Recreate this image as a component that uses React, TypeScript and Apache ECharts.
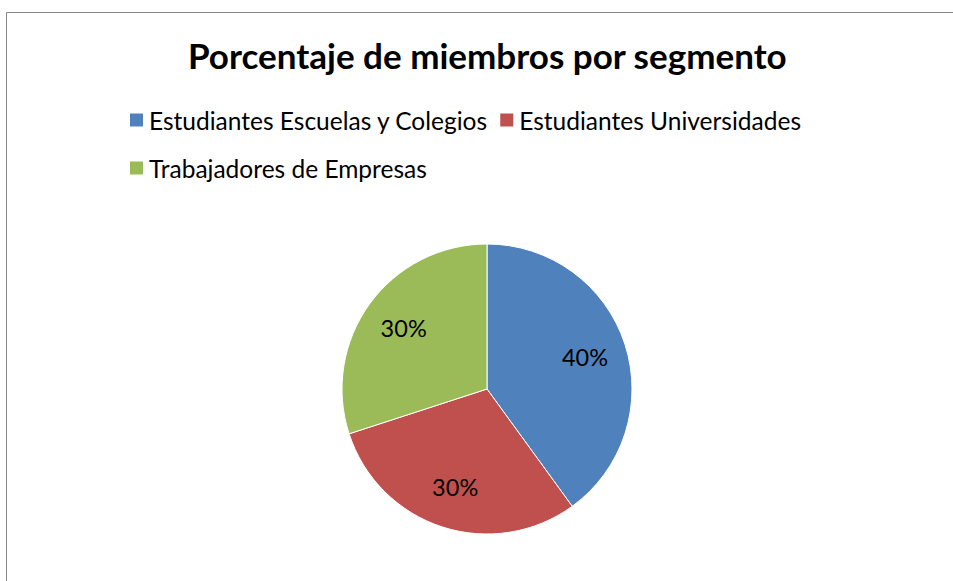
import React, { useEffect, useRef } from 'react';
import * as echarts from 'echarts';

const titleText = 'Porcentaje de miembros por segmento';
const categories = ['Estudiantes Escuelas y Colegios', 'Estudiantes Universidades', 'Trabajadores de Empresas'];
const values = [40, 30, 30];
const colors = ['#4F81BD', '#C0504D', '#9BBB59'];

const FONT = 'Lato';

export default function App() {
  const ref = useRef<HTMLDivElement>(null);
  useEffect(() => {
    document.body.style.margin = '0';
    const chart = echarts.init(ref.current!, null, { renderer: 'svg' });
    const data = categories.map((name, i) => ({ name, value: values[i], itemStyle: { color: colors[i] } }));
    chart.setOption({
      animation: false,
      backgroundColor: '#ffffff',
      title: {
        text: titleText,
        left: 183,
        top: 32,
        textStyle: { fontFamily: FONT, fontWeight: 'bold', fontSize: 35, color: '#000' },
      },
      legend: {
        left: 128,
        top: 101,
        width: 740,
        padding: 0,
        icon: 'rect',
        itemWidth: 15,
        itemHeight: 15,
        itemGap: 10,
        data: categories.map((name, i) => ({ name, itemStyle: { color: colors[i] } })),
        textStyle: { fontFamily: FONT, fontSize: 24.5, color: '#000', lineHeight: 38 },
      },
      graphic: [
        {
          type: 'rect',
          shape: { x: 6.5, y: 12.5, width: 1000, height: 1000 },
          style: { fill: 'none', stroke: '#868686', lineWidth: 1 },
          silent: true,
          z: -1,
        },
      ],
      series: [
        {
          type: 'pie',
          center: [487, 389],
          radius: [0, 145],
          startAngle: 90,
          clockwise: true,
          label: { show: false },
          labelLine: { show: false },
          itemStyle: { borderColor: '#ffffff', borderWidth: 1 },
          data,
        },
        {
          type: 'pie',
          center: [487, 389],
          radius: [0, 200],
          startAngle: 90,
          clockwise: true,
          silent: true,
          itemStyle: { color: 'transparent', borderWidth: 0 },
          labelLine: { show: false },
          label: {
            show: true,
            position: 'inside',
            formatter: (p: any) => Math.round(p.percent) + '%',
            fontFamily: FONT,
            fontSize: 23.5,
            color: '#000',
          },
          data: categories.map((name, i) => ({ name, value: values[i], itemStyle: { color: 'transparent' } })),
        },
      ],
    });
    return () => chart.dispose();
  }, []);
  return <div ref={ref} style={{ width: 953, height: 581 }} />;
}
